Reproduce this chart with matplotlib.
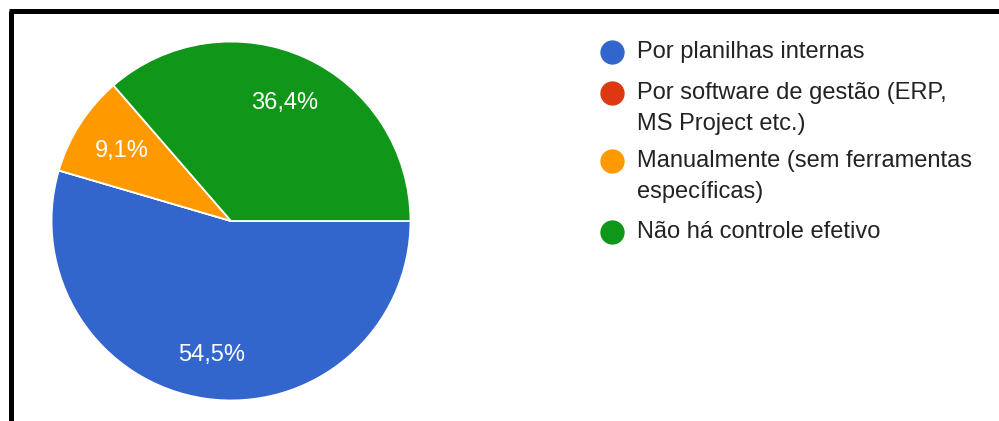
import matplotlib
matplotlib.use("Agg")
import matplotlib.pyplot as plt

W, H = 999, 421

categories = [
    "Por planilhas internas",
    "Por software de gestão (ERP,\nMS Project etc.)",
    "Manualmente (sem ferramentas\nespecíficas)",
    "Não há controle efetivo",
]
counts = [6, 0, 1, 4]
colors = ["#3366cc", "#dc3912", "#ff9900", "#109618"]

plt.rcParams["font.family"] = ["Liberation Sans", "DejaVu Sans"]

fig = plt.figure(figsize=(W / 100, H / 100), dpi=100)
fig.patch.set_facecolor("white")

# pie, 360px square, centre at (231, 221) from top-left
cx, cy, r = 231, 221, 180
ax = fig.add_axes([(cx - r) / W, (H - cy - r) / H, 2 * r / W, 2 * r / H])


def fmt(p):
    if p < 0.05:
        return ""
    return f"{p:.1f}%".replace(".", ",")


wedges, texts, autotexts = ax.pie(
    counts,
    colors=colors,
    startangle=0,
    counterclock=False,
    radius=0.997,
    autopct=fmt,
    pctdistance=0.72,
    wedgeprops=dict(edgecolor="white", linewidth=1.3),
    textprops=dict(color="white", fontsize=17),
)
# the big slice keeps its label a little further out
x, y = autotexts[0].get_position()
autotexts[0].set_position((x * 1.05, y * 1.05))
ax.set_xlim(-1, 1)
ax.set_ylim(-1, 1)
ax.set_aspect("equal")
ax.axis("off")

# legend drawn on a pixel-space overlay
lg = fig.add_axes([0, 0, 1, 1])
lg.set_xlim(0, W)
lg.set_ylim(H, 0)
lg.axis("off")
lg.patch.set_alpha(0)

item_y = [52, 93, 161, 232]
line_gap = 31
for name, color, y0 in zip(categories, colors, item_y):
    lg.plot(612, y0, marker="o", markersize=16.5, color=color, linestyle="none")
    for k, line in enumerate(name.split("\n")):
        lg.text(637, y0 + k * line_gap, line, fontsize=17, color="#222222",
                va="center", ha="left")

# frame on the top and left edges
lg.plot([10.5, 10.5], [11, H], color="black", linewidth=3.6, solid_capstyle="butt")
lg.plot([8.7, W], [11, 11], color="black", linewidth=3.6, solid_capstyle="butt")

fig.savefig("out.png", dpi=100)
